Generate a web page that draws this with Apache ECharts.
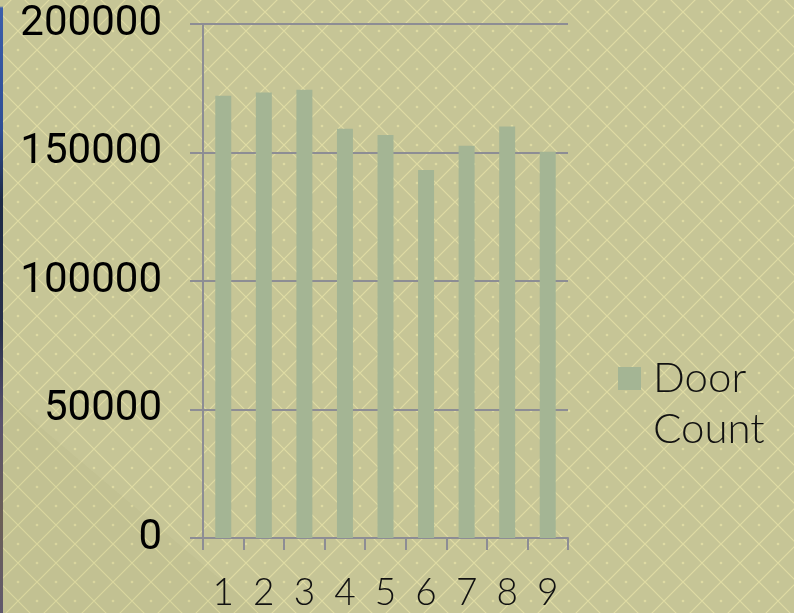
<!DOCTYPE html>
<html>
<head>
<meta charset="utf-8">
<script src="https://cdn.jsdelivr.net/npm/echarts@6/dist/echarts.min.js"></script>
<style>
  html, body { margin: 0; padding: 0; }
  #wrap {
    position: relative;
    width: 794px;
    height: 613px;
    overflow: hidden;
    background-color: #c6c596;
    background-image: url("data:image/svg+xml;utf8,<svg xmlns='http://www.w3.org/2000/svg' width='38' height='38'><g stroke='%23dfdba3' stroke-width='1.2' fill='none'><path d='M-2 -2L40 40M40 -2L-2 40M-2 2L2 -2M36 40L40 36M36 -2L40 2M-2 36L2 40'/></g><g fill='%23dedaa2'><circle cx='19' cy='0' r='1.3'/><circle cx='0' cy='19' r='1.3'/><circle cx='38' cy='19' r='1.3'/><circle cx='19' cy='38' r='1.3'/></g></svg>");
    background-position: -1.3px 12.3px;
  }
  #strip {
    position: absolute; left: 0; top: 0; width: 3px; height: 613px;
    background: linear-gradient(#c6c596 0px, #c6c596 6px, #3b5eaa 8px, #2f4f95 130px, #1d2a45 200px, #28304a 330px, #5a5270 420px, #6d6058 520px, #5f5870 613px);
  }
  #shade {
    position: absolute; left: 0; top: 0; width: 794px; height: 613px;
    background: rgba(90, 90, 40, 0.04);
    clip-path: polygon(0px 393px, 260px 613px, 0px 613px);
  }
  #main { position: absolute; left: 0; top: 0; width: 794px; height: 613px; }
</style>
</head>
<body>
<div id="wrap">
  <div id="strip"></div>
  <div id="shade"></div>
  <div id="main"></div>
</div>
<script>
var categories = ['1', '2', '3', '4', '5', '6', '7', '8', '9'];
var doorCount = [172100, 173300, 174400, 159200, 156800, 143200, 152600, 160100, 150300];
var seriesName = 'Door Count';
var yTicks = { min: 0, max: 200000, interval: 50000 };

var axisGray = '#8d8d94';

var myChart = echarts.init(document.getElementById('main'));
var option = {
    backgroundColor: 'transparent',
    animation: false,
    grid: {
        left: 203,
        right: 226,
        top: 24,
        bottom: 75
    },
    legend: {
        orient: 'vertical',
        left: 618,
        top: 302,
        padding: 0,
        itemWidth: 23,
        itemHeight: 23,
        icon: 'rect',
        // blank first line keeps the icon level with "Door"
        formatter: function (name) {
            return ' \n' + name.replace(' ', '\n');
        },
        textStyle: {
            fontFamily: 'Lato',
            fontWeight: 300,
            fontSize: 42,
            lineHeight: 51,
            color: '#111',
            padding: [0, 0, 0, 7]
        },
        data: [seriesName]
    },
    xAxis: {
        type: 'category',
        data: categories,
        boundaryGap: true,
        axisLine: { show: true, lineStyle: { color: axisGray, width: 2 } },
        axisTick: { show: true, length: 12, lineStyle: { color: axisGray, width: 2 } },
        axisLabel: {
            margin: 37,
            fontFamily: 'Lato',
            fontWeight: 300,
            fontSize: 37,
            color: '#111',
            interval: 0
        }
    },
    yAxis: {
        type: 'value',
        min: yTicks.min,
        max: yTicks.max,
        interval: yTicks.interval,
        axisLine: { show: true, lineStyle: { color: axisGray, width: 2 } },
        axisTick: { show: true, length: 13, lineStyle: { color: axisGray, width: 2 } },
        axisLabel: {
            margin: 41,
            fontFamily: 'Roboto',
            fontSize: 42,
            color: '#000',
            formatter: function (v) { return String(v); }
        },
        splitLine: { show: true, lineStyle: { color: axisGray, width: 2 } }
    },
    series: [
        {
            name: seriesName,
            type: 'bar',
            data: doorCount,
            barWidth: 16,
            itemStyle: { color: '#a4b594' }
        }
    ]
};
myChart.setOption(option);
window.addEventListener('resize', function () { myChart.resize(); });
</script>
</body>
</html>
